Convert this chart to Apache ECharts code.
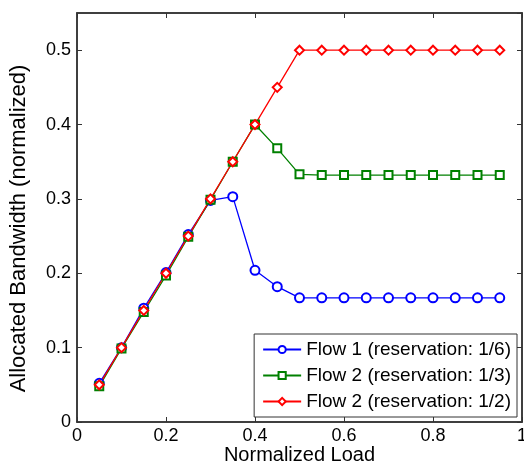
<!DOCTYPE html>
<html>
<head>
<meta charset="utf-8">
<script src="https://cdn.jsdelivr.net/npm/echarts@6/dist/echarts.min.js"></script>
<style>
html, body { margin: 0; padding: 0; background: #fff; }
#main { width: 524px; height: 464px; }
</style>
</head>
<body>
<div id="main"></div>
<script>
// normalized load
var loads = [0.05, 0.1, 0.15, 0.2, 0.25, 0.3, 0.35, 0.4, 0.45, 0.5,
             0.55, 0.6, 0.65, 0.7, 0.75, 0.8, 0.85, 0.9, 0.95];
var flow1 = [0.052, 0.1, 0.153, 0.201, 0.252, 0.298, 0.303, 0.204, 0.182, 0.167,
             0.167, 0.167, 0.167, 0.167, 0.167, 0.167, 0.167, 0.167, 0.167];
var flow2a = [0.048, 0.099, 0.148, 0.197, 0.249, 0.299, 0.35, 0.4, 0.368, 0.333,
              0.332, 0.332, 0.332, 0.332, 0.332, 0.332, 0.332, 0.332, 0.332];
var flow2b = [0.05, 0.1, 0.15, 0.2, 0.25, 0.3, 0.35, 0.4, 0.45, 0.5,
              0.5, 0.5, 0.5, 0.5, 0.5, 0.5, 0.5, 0.5, 0.5];
var names = ['Flow 1 (reservation: 1/6)', 'Flow 2 (reservation: 1/3)', 'Flow 2 (reservation: 1/2)'];

function pairs(ys) {
    var d = [];
    for (var i = 0; i < loads.length; i++) d.push([loads[i], ys[i]]);
    return d;
}

var font = 'Liberation Sans, Arial, sans-serif';
var axisCol = '#333';

function xAx(pos, labels) {
    return {
        type: 'value', position: pos, min: 0, max: 1, interval: 0.2,
        name: labels ? 'Normalized Load' : '', nameLocation: 'middle', nameGap: 23,
        nameMoveOverlap: false,
        nameTextStyle: { fontFamily: font, fontSize: 20, color: '#000' },
        axisLine: { show: true, onZero: false, lineStyle: { color: axisCol, width: 1.5 } },
        axisTick: { show: true, inside: true, length: 5, lineStyle: { color: axisCol } },
        axisLabel: { show: labels, fontFamily: font, fontSize: 18, color: '#000', margin: 5 },
        splitLine: { show: false }
    };
}
function yAx(pos, labels) {
    return {
        type: 'value', position: pos, min: 0, max: 0.55, interval: 0.1,
        name: labels ? 'Allocated Bandwidth (normalized)' : '', nameLocation: 'middle', nameGap: 47,
        nameMoveOverlap: false,
        // nudge the rotated title a little down, as in the reference
        nameTextStyle: { fontFamily: font, fontSize: 22, color: '#000', padding: [0, 22, 0, 0] },
        axisLine: { show: true, onZero: false, lineStyle: { color: axisCol, width: 1.5 } },
        axisTick: { show: true, inside: true, length: 5, lineStyle: { color: axisCol } },
        axisLabel: { show: labels, showMaxLabel: false, fontFamily: font, fontSize: 18, color: '#000', margin: 6 },
        splitLine: { show: false }
    };
}

function line(name, ys, color, symbol, size) {
    return {
        name: name, type: 'line', data: pairs(ys),
        symbol: symbol, symbolSize: size,
        lineStyle: { color: color, width: 1.3 },
        itemStyle: { color: color, borderColor: color, borderWidth: 1.2 },
        z: 3
    };
}

var myChart = echarts.init(document.getElementById('main'));
myChart.setOption({
    animation: false,
    backgroundColor: '#fff',
    grid: {
        left: 77, right: 2, top: 13, bottom: 42, outerBoundsMode: 'none',
        show: true, borderColor: axisCol, borderWidth: 1.5, backgroundColor: 'transparent'
    },
    xAxis: [xAx('bottom', true), xAx('top', false)],
    yAxis: [yAx('left', true), yAx('right', false)],
    legend: {
        data: names, orient: 'vertical', right: 7, bottom: 47,
        backgroundColor: '#fff', borderColor: '#333', borderWidth: 1,
        padding: [6, 6, 6, 8], itemGap: 7, itemWidth: 38, itemHeight: 9,
        textStyle: { fontFamily: font, fontSize: 19, color: '#000' }
    },
    series: [
        line(names[0], flow1, '#0000ff', 'emptyCircle', 9),
        line(names[1], flow2a, '#008000', 'emptyRect', 8),
        line(names[2], flow2b, '#ff0000', 'emptyDiamond', 9)
    ]
});
</script>
</body>
</html>
